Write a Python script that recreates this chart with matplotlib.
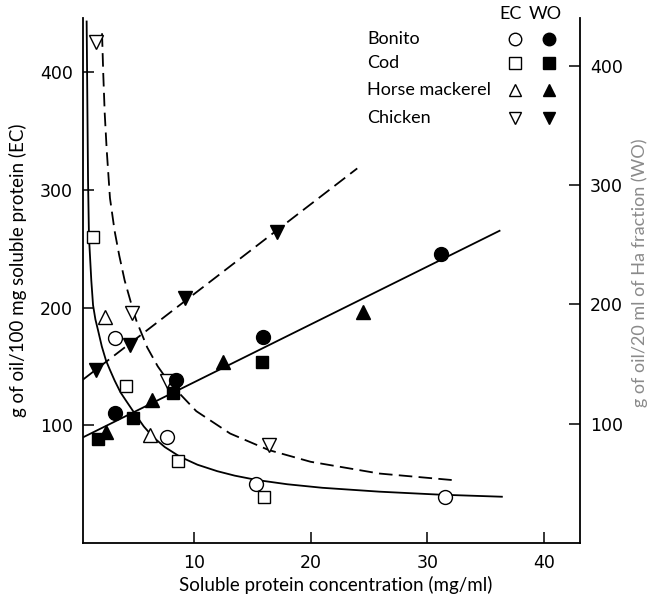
import numpy as np
import matplotlib
matplotlib.use("Agg")
import matplotlib.pyplot as plt

plt.rcParams["font.family"] = ["Lato", "DejaVu Sans"]

# EC values (left axis, open symbols)
ec_bonito_x = [3.2, 7.7, 15.3, 31.5]
ec_bonito_y = [174, 90, 50, 39]
ec_cod_x = [1.35, 4.2, 8.6, 16.0]
ec_cod_y = [260, 133, 70, 39]
ec_horse_x = [2.4, 6.2]
ec_horse_y = [192, 92]
ec_chicken_x = [1.6, 4.65, 7.7, 16.4]
ec_chicken_y = [426, 195, 138, 83]

# WO values (right axis, filled symbols)
wo_bonito_x = [3.2, 8.5, 15.9, 31.2]
wo_bonito_y = [109, 137, 173, 242]
wo_cod_x = [1.8, 4.8, 8.2, 15.8]
wo_cod_y = [87, 105, 126, 152]
wo_horse_x = [2.5, 6.4, 12.5, 24.5]
wo_horse_y = [93, 120, 152, 194]
wo_chicken_x = [1.6, 4.5, 9.2, 17.1]
wo_chicken_y = [145, 166, 205, 261]

# hand drawn EC curves
ec_fish_curve_x = [0.80, 0.92, 1.0, 1.2, 1.35, 1.55, 1.77, 2.1, 2.46, 2.8,
                   3.2, 3.7, 4.17, 4.92, 5.7, 6.5, 7.5, 8.8, 10.3, 12.0,
                   13.5, 15.4, 18.0, 21.0, 25.9, 31.0, 36.4]
ec_fish_curve_y = [443, 308, 260, 223, 202, 190, 181, 167, 155, 147,
                   138, 128, 121, 110, 99, 90, 81.5, 73.3, 66.5, 61,
                   57.2, 53.5, 49.9, 46.9, 43.6, 41.1, 39.3]
ec_chicken_curve_x = [2.12, 2.22, 2.35, 2.52, 2.8, 3.2, 3.6, 4.06, 4.66,
                      5.06, 6.0, 6.9, 7.9, 10.2, 13.1, 16.4, 20.0, 25.9,
                      32.1]
ec_chicken_curve_y = [433, 400, 365, 334, 293, 265, 244, 223, 202,
                      189, 166, 150, 136, 112, 93, 79, 69, 59,
                      53.5]

species = ["Bonito", "Cod", "Horse mackerel", "Chicken"]
markers = ["o", "s", "^", "v"]

X0, X1 = 0.46, 43.1
LW = 1.3
DASH = (7.5, 3.5)

fig = plt.figure(figsize=(6.52, 5.99), dpi=100)
ax = fig.add_axes([0.1268, 0.0935, 0.7628, 0.8765])
ax2 = ax.twinx()

# fitted WO lines
fish_x = np.array(wo_bonito_x + wo_cod_x + wo_horse_x)
fish_y = np.array(wo_bonito_y + wo_cod_y + wo_horse_y)
k, b = np.polyfit(fish_x, fish_y, 1)
xs = np.array([X0, 36.2])
ax2.plot(xs, k * xs + b, color="black", lw=LW, zorder=2)
k, b = np.polyfit(wo_chicken_x, wo_chicken_y, 1)
xs = np.array([X0, 24.0])
ax2.plot(xs, k * xs + b, color="black", lw=LW, dashes=DASH, zorder=2)

# EC curves
ax.plot(ec_fish_curve_x, ec_fish_curve_y, color="black", lw=LW, zorder=2)
ax.plot(ec_chicken_curve_x, ec_chicken_curve_y, color="black", lw=LW,
        dashes=DASH, zorder=2)

ec_data = [(ec_bonito_x, ec_bonito_y), (ec_cod_x, ec_cod_y),
           (ec_horse_x, ec_horse_y), (ec_chicken_x, ec_chicken_y)]
wo_data = [(wo_bonito_x, wo_bonito_y), (wo_cod_x, wo_cod_y),
           (wo_horse_x, wo_horse_y), (wo_chicken_x, wo_chicken_y)]
msize = {"o": 10, "s": 9, "^": 9.5, "v": 9.5}

for (x, y), m in zip(ec_data, markers):
    ax.plot(x, y, ls="none", marker=m, ms=msize[m], mfc="white",
            mec="black", mew=1.0, zorder=4)
for (x, y), m in zip(wo_data, markers):
    ax2.plot(x, y, ls="none", marker=m, ms=msize[m], mfc="black",
             mec="black", mew=1.0, zorder=4)

ax.set_xlim(X0, X1)
ax.set_ylim(0, 446)
ax2.set_ylim(0, 440)
ax.set_xticks([10, 20, 30, 40])
ax.set_yticks([100, 200, 300, 400])
ax2.set_yticks([100, 200, 300, 400])

for a in (ax, ax2):
    a.spines["top"].set_visible(False)
    for s in a.spines.values():
        s.set_linewidth(LW)
    a.tick_params(direction="in", length=8, width=1.1, pad=7)
    for t in a.get_xticklabels() + a.get_yticklabels():
        t.set_fontfamily("DejaVu Sans")
        t.set_fontsize(12.5)
ax.spines["right"].set_visible(False)
ax2.spines["left"].set_visible(False)
ax2.spines["bottom"].set_visible(False)
ax.tick_params(axis="x", pad=8)

ax.set_xlabel("Soluble protein concentration (mg/ml)", fontsize=13.5,
              va="center")
ax.xaxis.set_label_coords(0.509, -0.08)
ax.set_ylabel("g of oil/100 mg soluble protein (EC)", fontsize=13.5,
              va="center")
ax.yaxis.set_label_coords(-0.13, 0.52)
ax2.set_ylabel("g of oil/20 ml of Ha fraction (WO)", fontsize=13,
               color="#8a8a8a", va="center")
ax2.yaxis.set_label_coords(1.12, 0.515)

# legend table
fig.text(511 / 652, 1 - 14 / 599, "EC", ha="center", va="center", fontsize=13)
fig.text(545 / 652, 1 - 14 / 599, "WO", ha="center", va="center", fontsize=13)
rows_y = [39, 63, 90, 118]
for name, m, py in zip(species, markers, rows_y):
    yf = 1 - py / 599
    fig.text(367 / 652, yf, name, ha="left", va="center", fontsize=13)
    fig.lines.append(plt.Line2D([515 / 652], [yf], transform=fig.transFigure,
                                marker=m, ms=msize[m] - 1, mfc="white",
                                mec="black", mew=1.0, ls="none"))
    fig.lines.append(plt.Line2D([549 / 652], [yf], transform=fig.transFigure,
                                marker=m, ms=msize[m] - 1, mfc="black",
                                mec="black", ls="none"))

fig.savefig("out.png", dpi=100)
